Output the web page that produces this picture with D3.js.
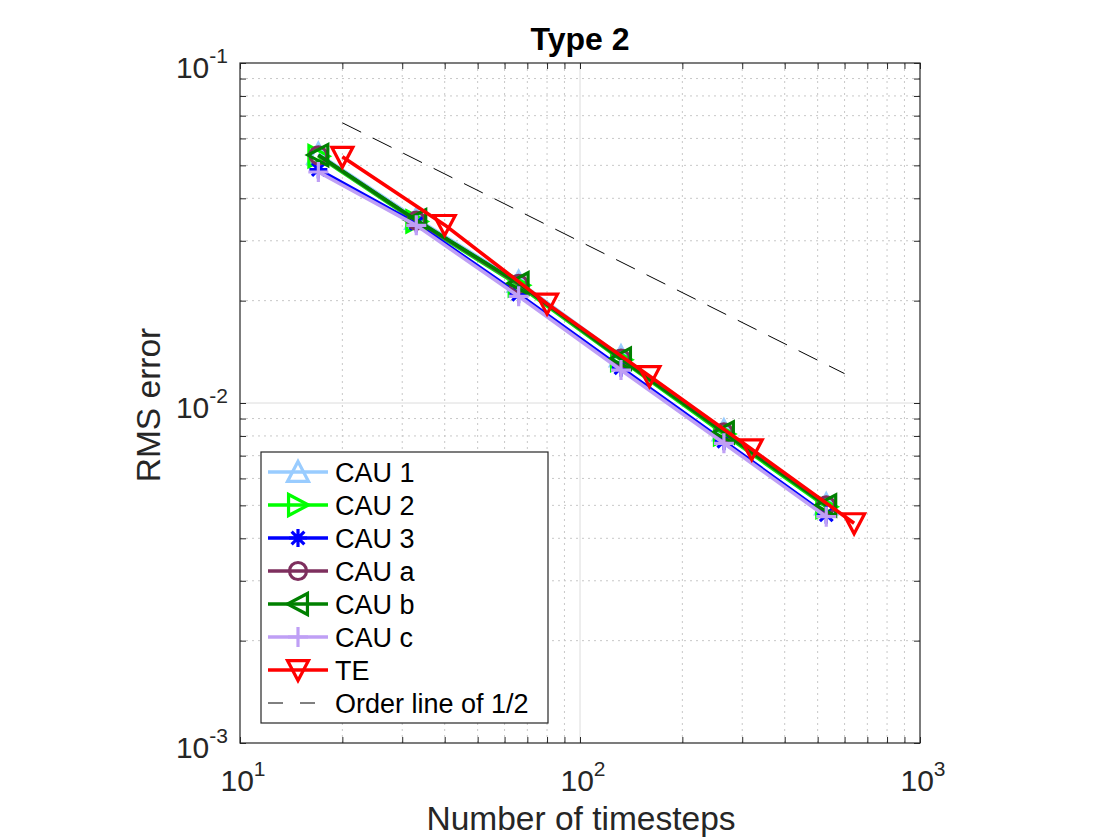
<!DOCTYPE html>
<html lang="en">
<head>
    <meta charset="UTF-8">
    <title>Type 2</title>
    <style>
        body { margin: 0; background: #fff; }
        text { font-family: "Liberation Sans", Arial, Helvetica, sans-serif; fill: #262626; }
    </style>
</head>
<body>
<script src="https://d3js.org/d3.v7.min.js"></script>
<script>
    // data (log-log convergence plot)
    let xCAU = [17, 33, 66, 132, 265, 530];
    let xTE = [20, 40, 80, 160, 320, 640];

    let cau1 = [0.0540, 0.0348, 0.0227, 0.0137, 0.0083, 0.00503];
    let cau2 = [0.0532, 0.0342, 0.0222, 0.0134, 0.0081, 0.00495];
    let cau3 = [0.0486, 0.0337, 0.0209, 0.0127, 0.00772, 0.00469];
    let caua = [0.0535, 0.0344, 0.0224, 0.0135, 0.0082, 0.0050];
    let caub = [0.0536, 0.0345, 0.0225, 0.0135, 0.0082, 0.0050];
    let cauc = [0.0478, 0.0333, 0.0206, 0.0125, 0.00761, 0.00463];
    let te = [0.0530, 0.0334, 0.0196, 0.0120, 0.00731, 0.00443];

    let orderX = [20, 600];
    let orderY = [0.0667, 0.0122];

    let names = ["CAU 1", "CAU 2", "CAU 3", "CAU a", "CAU b", "CAU c", "TE"];
    let markers = ["^", ">", "*", "o", "<", "+", "v"];
    let colors = ["#99ccff", "#00ff00", "#0000ff", "#7e2f5e", "#008000", "#bf9ff5", "#ff0000"];
    let series = [
        {x: xCAU, y: cau1}, {x: xCAU, y: cau2}, {x: xCAU, y: cau3},
        {x: xCAU, y: caua}, {x: xCAU, y: caub}, {x: xCAU, y: cauc},
        {x: xTE, y: te}
    ];

    let w = 1120, h = 840;
    let box = {left: 240, right: 920, top: 63, bottom: 743};

    let x = d3.scaleLog().domain([10, 1000]).range([box.left, box.right]);
    let y = d3.scaleLog().domain([1e-3, 1e-1]).range([box.bottom, box.top]);

    let svg = d3.select("body")
        .append("svg")
        .attr("width", w)
        .attr("height", h);

    svg.append("rect").attr("width", w).attr("height", h).attr("fill", "#fff");

    let xt = x.ticks();
    let yt = y.ticks();
    let isMajor = v => Math.abs(Math.log10(v) - Math.round(Math.log10(v))) < 1e-9;

    // grid
    let grid = svg.append("g");
    grid.selectAll(".xg")
        .data(xt.filter(v => v > 10 && v < 1000))
        .enter()
        .append("line")
        .attr("x1", d => x(d)).attr("x2", d => x(d))
        .attr("y1", box.top).attr("y2", box.bottom)
        .attr("stroke", d => isMajor(d) ? "#dcdcdc" : "#c8c8c8")
        .attr("stroke-dasharray", d => isMajor(d) ? null : "2,4")
        .attr("stroke-width", 1);
    grid.selectAll(".yg")
        .data(yt.filter(v => v > 1e-3 * 1.0001 && v < 0.1 * 0.9999))
        .enter()
        .append("line")
        .attr("y1", d => y(d)).attr("y2", d => y(d))
        .attr("x1", box.left).attr("x2", box.right)
        .attr("stroke", d => isMajor(d) ? "#dcdcdc" : "#c8c8c8")
        .attr("stroke-dasharray", d => isMajor(d) ? null : "2,4")
        .attr("stroke-width", 1);

    // tick marks on all four sides (inward)
    let tickLen = 6;
    let axes = [
        {g: d3.axisBottom(x).tickValues(xt), t: "translate(0," + box.bottom + ")"},
        {g: d3.axisTop(x).tickValues(xt), t: "translate(0," + box.top + ")"},
        {g: d3.axisLeft(y).tickValues(yt), t: "translate(" + box.left + ",0)"},
        {g: d3.axisRight(y).tickValues(yt), t: "translate(" + box.right + ",0)"}
    ];
    axes.forEach(function (a) {
        let g = svg.append("g")
            .attr("transform", a.t)
            .call(a.g.tickSizeInner(-tickLen).tickSizeOuter(0).tickFormat(""));
        g.select(".domain").remove();
        g.selectAll("line").attr("stroke", "#262626");
    });

    svg.append("rect")
        .attr("x", box.left).attr("y", box.top)
        .attr("width", box.right - box.left).attr("height", box.bottom - box.top)
        .attr("fill", "none")
        .attr("stroke", "#262626")
        .attr("stroke-width", 1.2);

    // tick labels 10^n
    function powLabel(sel, v) {
        let e = Math.round(Math.log10(v));
        sel.append("tspan").text("10");
        sel.append("tspan").attr("dy", -15).style("font-size", "21px").text(e);
    }
    xt.filter(isMajor).forEach(function (v) {
        let t = svg.append("text")
            .attr("x", x(v) + 3)
            .attr("y", 791)
            .attr("text-anchor", "middle")
            .style("font-size", "30px");
        powLabel(t, v);
    });
    yt.filter(isMajor).forEach(function (v) {
        let t = svg.append("text")
            .attr("x", 228)
            .attr("y", y(v) + 15)
            .attr("text-anchor", "end")
            .style("font-size", "30px");
        powLabel(t, v);
    });

    // labels and title
    svg.append("text")
        .attr("x", (box.left + box.right) / 2 + 1)
        .attr("y", 830)
        .attr("text-anchor", "middle")
        .style("font-size", "33.5px")
        .text("Number of timesteps");
    svg.append("text")
        .attr("transform", "translate(160," + ((box.top + box.bottom) / 2 + 2) + ") rotate(-90)")
        .attr("text-anchor", "middle")
        .style("font-size", "33.5px")
        .text("RMS error");
    svg.append("text")
        .attr("x", (box.left + box.right) / 2)
        .attr("y", 50)
        .attr("text-anchor", "middle")
        .style("font-size", "32px")
        .style("font-weight", "bold")
        .style("fill", "#000")
        .text("Type 2");

    // marker drawing
    function drawMarker(g, type, color) {
        let s = 10.5;
        let p;
        if (type === "^") p = "M0," + (-s) + "L" + s + "," + (s * 0.9) + "L" + (-s) + "," + (s * 0.9) + "Z";
        if (type === "v") p = "M" + (-s) + "," + (-s * 0.9) + "L" + s + "," + (-s * 0.9) + "L0," + s + "Z";
        if (type === ">") p = "M" + (-s * 0.9) + "," + (-s) + "L" + s + ",0L" + (-s * 0.9) + "," + s + "Z";
        if (type === "<") p = "M" + (s * 0.9) + "," + (-s) + "L" + (-s) + ",0L" + (s * 0.9) + "," + s + "Z";
        if (type === "o") {
            g.append("circle").attr("r", 8.5).attr("fill", "none")
                .attr("stroke", color).attr("stroke-width", 3.2);
            return;
        }
        if (type === "+") p = "M-10,0L10,0M0,-10L0,10";
        if (type === "*") {
            let a = 9, b = a * 0.7071;
            p = "M" + (-a) + ",0L" + a + ",0M0," + (-a) + "L0," + a +
                "M" + (-b) + "," + (-b) + "L" + b + "," + b + "M" + (-b) + "," + b + "L" + b + "," + (-b);
        }
        g.append("path").attr("d", p).attr("fill", "none")
            .attr("stroke", color).attr("stroke-width", 3.2)
            .attr("stroke-linejoin", "miter");
    }

    let plot = svg.append("g");
    let line = d3.line().x(d => x(d[0])).y(d => y(d[1]));

    series.forEach(function (s, i) {
        let pts = s.x.map((v, k) => [v, s.y[k]]);
        plot.append("path")
            .attr("d", line(pts))
            .attr("fill", "none")
            .attr("stroke", colors[i])
            .attr("stroke-width", 3.6)
            .attr("stroke-linejoin", "round");
        pts.forEach(function (p) {
            let g = plot.append("g")
                .attr("transform", "translate(" + x(p[0]) + "," + y(p[1]) + ")");
            drawMarker(g, markers[i], colors[i]);
        });
    });

    plot.append("path")
        .attr("d", line(orderX.map((v, k) => [v, orderY[k]])))
        .attr("fill", "none")
        .attr("stroke", "#000")
        .attr("stroke-width", 1)
        .attr("stroke-dasharray", "21,13");

    // legend
    let leg = svg.append("g");
    leg.append("rect")
        .attr("x", 261).attr("y", 452)
        .attr("width", 287).attr("height", 271)
        .attr("fill", "#fff")
        .attr("stroke", "#262626")
        .attr("stroke-width", 1.2);

    let rowY = d => 472 + d * 33;
    names.forEach(function (n, i) {
        leg.append("line")
            .attr("x1", 268).attr("x2", 328)
            .attr("y1", rowY(i)).attr("y2", rowY(i))
            .attr("stroke", colors[i])
            .attr("stroke-width", 3.6);
        let g = leg.append("g").attr("transform", "translate(298," + rowY(i) + ")");
        drawMarker(g, markers[i], colors[i]);
        leg.append("text")
            .attr("x", 335).attr("y", rowY(i))
            .attr("dy", "0.36em")
            .style("font-size", "27px")
            .style("fill", "#000")
            .text(n);
    });
    leg.append("line")
        .attr("x1", 268).attr("x2", 328)
        .attr("y1", rowY(7)).attr("y2", rowY(7))
        .attr("stroke", "#000")
        .attr("stroke-width", 1)
        .attr("stroke-dasharray", "15,17");
    leg.append("text")
        .attr("x", 335).attr("y", rowY(7))
        .attr("dy", "0.36em")
        .style("font-size", "27px")
        .style("fill", "#000")
        .text("Order line of 1/2");
</script>
</body>
</html>
